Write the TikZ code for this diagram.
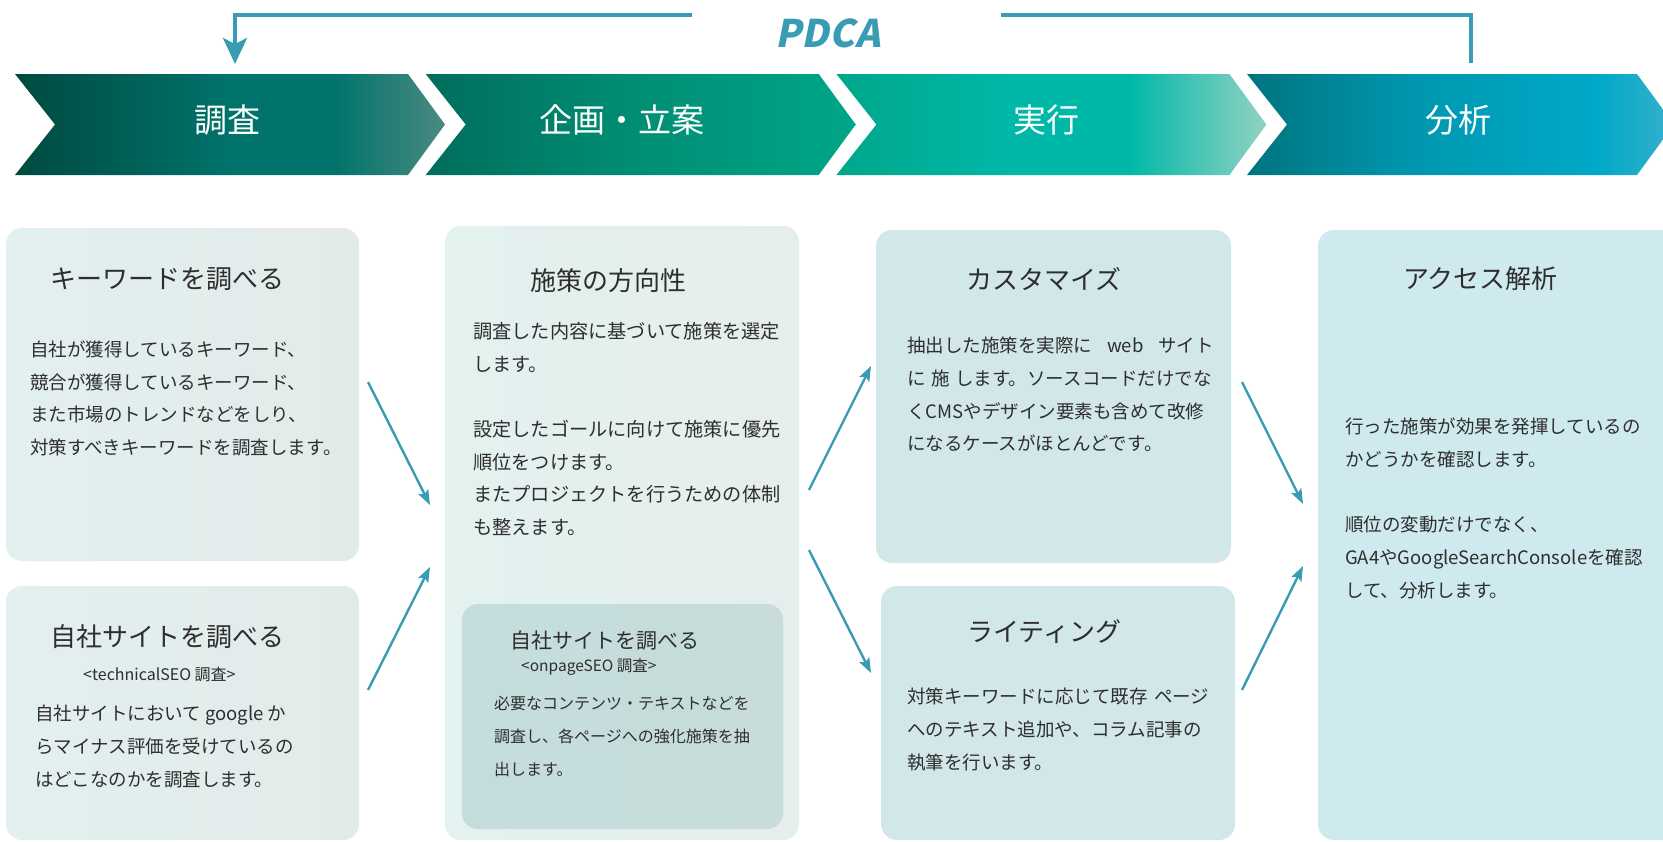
\documentclass[tikz,border=0pt]{standalone}
\usepackage{fontspec}
\setmainfont{Noto Sans CJK JP}
\newfontfamily\pdcafont[FakeSlant=0.2]{Noto Sans CJK JP}
\usetikzlibrary{arrows.meta}
\definecolor{accent}{HTML}{3A9BB5}
\definecolor{txt}{HTML}{2E2E2E}
\definecolor{ca1}{HTML}{004A40}\definecolor{ca2}{HTML}{00736B}\definecolor{ca3}{HTML}{4A8A80}
\definecolor{cb1}{HTML}{006E5C}\definecolor{cb2}{HTML}{008F75}\definecolor{cb3}{HTML}{00A688}
\definecolor{cc1}{HTML}{00A78A}\definecolor{cc2}{HTML}{00B8A8}\definecolor{cc3}{HTML}{92D2C2}
\definecolor{cd1}{HTML}{00747E}\definecolor{cd2}{HTML}{0098B0}\definecolor{cd3}{HTML}{00A9C8}\definecolor{cd4}{HTML}{36B0CC}
\definecolor{ba1}{HTML}{E2F0EF}\definecolor{ba2}{HTML}{E3EAEA}
\definecolor{bc1}{HTML}{E3F1EF}\definecolor{bc2}{HTML}{E5EEED}
\definecolor{bd1}{HTML}{C4DDDC}\definecolor{bd2}{HTML}{C7DCDB}
\definecolor{be}{HTML}{D2E7EA}
\definecolor{bg}{HTML}{CFEAEE}
\pgfdeclarehorizontalshading{chevA}{100bp}{color(0bp)=(ca1); color(25bp)=(ca1); color(50bp)=(ca2); color(62bp)=(ca2); color(75bp)=(ca3); color(100bp)=(ca3)}
\pgfdeclarehorizontalshading{chevB}{100bp}{color(0bp)=(cb1); color(25bp)=(cb1); color(50bp)=(cb2); color(75bp)=(cb3); color(100bp)=(cb3)}
\pgfdeclarehorizontalshading{chevC}{100bp}{color(0bp)=(cc1); color(25bp)=(cc1); color(45bp)=(cc2); color(59bp)=(cc2); color(75bp)=(cc3); color(100bp)=(cc3)}
\pgfdeclarehorizontalshading{chevD}{100bp}{color(0bp)=(cd1); color(25bp)=(cd1); color(45bp)=(cd2); color(66bp)=(cd3); color(75bp)=(cd4); color(100bp)=(cd4)}
\tikzset{
  card/.style={rounded corners=16pt, inner sep=0pt, draw=none},
  ttl/.style={font=\fontsize{26}{30}\selectfont, text=txt, anchor=west, inner sep=0pt},
  ttlsmall/.style={font=\fontsize{21}{25}\selectfont, text=txt, anchor=west, inner sep=0pt},
  subttl/.style={font=\fontsize{16}{18}\selectfont, text=txt, anchor=west, inner sep=0pt},
  bodytxt/.style={font=\fontsize{18.5}{32.7}\selectfont, text=txt, anchor=north west, align=left, inner sep=0pt},
  bodysmall/.style={font=\fontsize{16}{32.7}\selectfont, text=txt, anchor=north west, align=left, inner sep=0pt},
  chevtxt/.style={font=\fontsize{33}{36}\selectfont, text=white, inner sep=0pt},
  flow/.style={draw=accent, line width=2.4pt, -{Stealth[length=15pt,width=11pt,inset=3pt]}},
  loopline/.style={draw=accent, line width=4pt},
}
\begin{document}
\begin{tikzpicture}[x=1pt,y=-1pt]
\useasboundingbox (0,0) rectangle (1663,841);
\clip (0,0) rectangle (1663,841);

% chevrons
\shade[shading=chevA]
  (15,74) -- (408,74) -- (445,124.5) -- (408,175) -- (15,175) -- (55,124.5) -- cycle;
\shade[shading=chevB]
  (425.7,74) -- (818.7,74) -- (855.7,124.5) -- (818.7,175) -- (425.7,175) -- (465.7,124.5) -- cycle;
\shade[shading=chevC]
  (836.4,74) -- (1229.4,74) -- (1266.4,124.5) -- (1229.4,175) -- (836.4,175) -- (876.4,124.5) -- cycle;
\shade[shading=chevD]
  (1247,74) -- (1637,74) -- (1674,124.5) -- (1637,175) -- (1247,175) -- (1287,124.5) -- cycle;

\node[chevtxt] (c1) at (227,120) {調査};
\node[chevtxt] (c2) at (622,120) {企画・立案};
\node[chevtxt] (c3) at (1046,120) {実行};
\node[chevtxt] (c4) at (1458,120) {分析};

% PDCA loop
\node[font=\pdcafont\bfseries\fontsize{38}{42}\selectfont, text=accent, inner sep=0pt] (pdca) at (828,33) {PDCA};
\coordinate (la) at (692,15);
\coordinate (lb) at (235,64);
\coordinate (ra) at (1001,15);
\coordinate (rb) at (1471,63);
\draw[loopline, -{Stealth[length=26pt,width=24pt,inset=6pt]}] (la) -| (lb);
\draw[loopline] (ra) -| (rb);

% cards
\node[card, left color=ba1, right color=ba2, minimum width=353pt, minimum height=333pt] (boxA) at (182.5,394.5) {};
\node[card, left color=ba1, right color=ba2, minimum width=353pt, minimum height=254pt] (boxB) at (182.5,713) {};
\node[card, left color=bc1, right color=bc2, minimum width=354pt, minimum height=614pt] (boxC) at (622,533) {};
\node[card, left color=bd1, right color=bd2, minimum width=321pt, minimum height=225pt] (boxD) at (622.5,716.5) {};
\node[card, fill=be, minimum width=355pt, minimum height=333pt] (boxE) at (1053.5,396.5) {};
\node[card, fill=be, minimum width=354pt, minimum height=254pt] (boxF) at (1058,713) {};
\node[card, fill=bg, minimum width=380pt, minimum height=610pt] (boxG) at (1508,535) {};

% card A
\node[ttl] (tA) at (50,279) {キーワードを調べる};
\node[bodytxt] (bA) at (30,340.5) {自社が獲得しているキーワード、\\競合が獲得しているキーワード、\\また市場のトレンドなどをしり、\\対策すべきキーワードを調査します。};

% card B
\node[ttl] (tB) at (50,637) {自社サイトを調べる};
\node[subttl] (sB) at (83,674) {<technicalSEO 調査>};
\node[bodytxt] (bB) at (35,705) {自社サイトにおいて google か\\らマイナス評価を受けているの\\はどこなのかを調査します。};

% card C
\node[ttl] (tC) at (530,281) {施策の方向性};
\node[bodytxt, font=\fontsize{19.2}{32.7}\selectfont] (bC) at (473,322) {調査した内容に基づいて施策を選定\\します。\\[32.7pt]設定したゴールに向けて施策に優先\\順位をつけます。\\またプロジェクトを行うための体制\\も整えます。};

% card D
\node[ttlsmall] (tD) at (510,641) {自社サイトを調べる};
\node[subttl, font=\fontsize{15.5}{18}\selectfont] (sD) at (521,667) {<onpageSEO 調査>};
\node[bodysmall] (bD) at (494,696) {必要なコンテンツ・テキストなどを\\調査し、各ページへの強化施策を抽\\出します。};

% card E
\node[ttl] (tE) at (966,279) {カスタマイズ};
\node[bodytxt] (bE) at (907,337) {抽出した施策を実際に\hspace{0.8em}web\hspace{0.8em}サイト\\に\hspace{0.3em}施\hspace{0.3em}します。ソースコードだけでな\\くCMSやデザイン要素も含めて改修\\になるケースがほとんどです。};

% card F
\node[ttl] (tF) at (967,632) {ライティング};
\node[bodytxt] (bF) at (907,688) {対策キーワードに応じて既存\hspace{0.35em}ページ\\へのテキスト追加や、コラム記事の\\執筆を行います。};

% card G
\node[ttl] (tG) at (1403,279) {アクセス解析};
\node[bodytxt] (bG) at (1345,418) {行った施策が効果を発揮しているの\\かどうかを確認します。\\[32.7pt]順位の変動だけでなく、\\GA4やGoogleSearchConsoleを確認\\して、分析します。};

% flow arrows
\coordinate (a1s) at (368,382);  \coordinate (a1e) at (430,505);
\coordinate (a2s) at (368,690);  \coordinate (a2e) at (430,567);
\coordinate (a3s) at (809,490);  \coordinate (a3e) at (871,366);
\coordinate (a4s) at (809,550);  \coordinate (a4e) at (871,673);
\coordinate (a5s) at (1242,382); \coordinate (a5e) at (1303,504);
\coordinate (a6s) at (1242,690); \coordinate (a6e) at (1303,566);
\draw[flow] (a1s) -- (a1e);
\draw[flow] (a2s) -- (a2e);
\draw[flow] (a3s) -- (a3e);
\draw[flow] (a4s) -- (a4e);
\draw[flow] (a5s) -- (a5e);
\draw[flow] (a6s) -- (a6e);
\end{tikzpicture}
\end{document}
